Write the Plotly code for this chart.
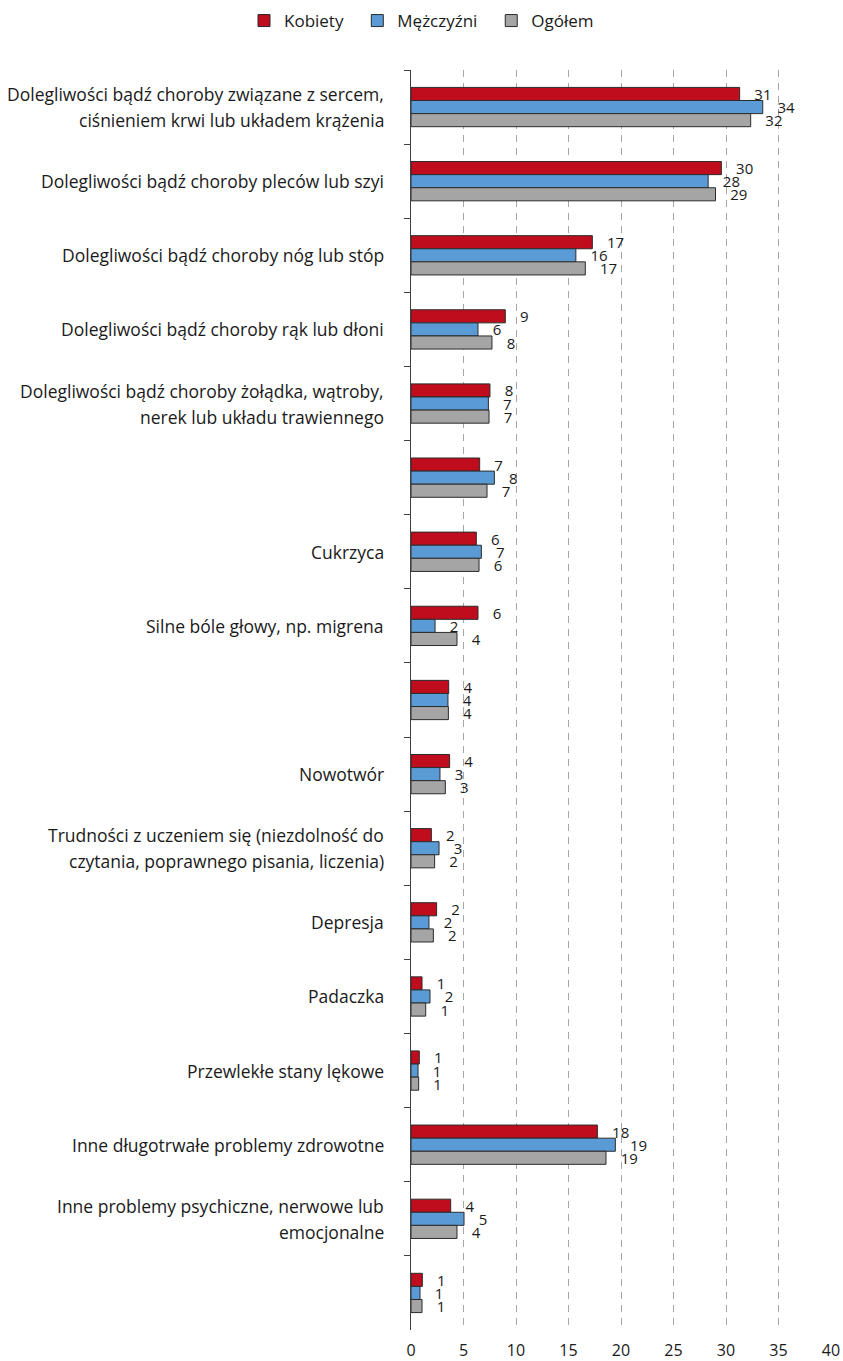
import plotly.graph_objects as go

# Category labels (top to bottom); "\n" marks a manual line break, "" = unlabeled row
categories = [
    "Dolegliwości bądź choroby związane z sercem,\nciśnieniem krwi lub układem krążenia",
    "Dolegliwości bądź choroby pleców lub szyi",
    "Dolegliwości bądź choroby nóg lub stóp",
    "Dolegliwości bądź choroby rąk lub dłoni",
    "Dolegliwości bądź choroby żołądka, wątroby,\nnerek lub układu trawiennego",
    "",
    "Cukrzyca",
    "Silne bóle głowy, np. migrena",
    "",
    "Nowotwór",
    "Trudności z uczeniem się (niezdolność do\nczytania, poprawnego pisania, liczenia)",
    "Depresja",
    "Padaczka",
    "Przewlekłe stany lękowe",
    "Inne długotrwałe problemy zdrowotne",
    "Inne problemy psychiczne, nerwowe lub\nemocjonalne",
    "",
]

kobiety = [31.3, 29.56, 17.27, 8.98, 7.52, 6.54, 6.22, 6.38, 3.59, 3.68, 1.94, 2.44, 1.05, 0.79, 17.75, 3.78, 1.08]
mezczyzni = [33.5, 28.3, 15.7, 6.38, 7.37, 7.94, 6.70, 2.29, 3.52, 2.76, 2.67, 1.71, 1.81, 0.67, 19.46, 5.05, 0.86]
ogolem = [32.35, 29.0, 16.6, 7.71, 7.43, 7.24, 6.48, 4.38, 3.56, 3.27, 2.25, 2.13, 1.40, 0.73, 18.57, 4.38, 1.05]

series_names = ["Kobiety", "Mężczyźni", "Ogółem"]
series_values = [kobiety, mezczyzni, ogolem]
series_colors = ["#C00D1E", "#5B9BD5", "#A5A5A5"]

x_ticks = [0, 5, 10, 15, 20, 25, 30, 35, 40]

FONT = "Open Sans"
TEXT_COLOR = "#1a1a1a"
NBSP = "\u00a0"

# unique keys for the categorical axis (several rows have no label)
keys = [f"r{i:02d}" for i in range(len(categories))]

fig = go.Figure()
for i, (name, vals, col) in enumerate(zip(series_names, series_values, series_colors)):
    # pad legend entries (except the last) to widen the gap between items
    legend_name = name + (NBSP * 2 if i < len(series_names) - 1 else "")
    fig.add_trace(go.Bar(
        name=legend_name,
        y=keys,
        x=vals,
        orientation="h",
        marker=dict(color=col, line=dict(color="#2b2b2b", width=1)),
        texttemplate=NBSP * 3 + "%{x:.0f}",
        textposition="outside",
        textfont=dict(family=FONT, size=15, color=TEXT_COLOR),
        constraintext="none",
        cliponaxis=False,
        hoverinfo="skip",
    ))

# category labels drawn as annotations so that wrapped lines get wider spacing
line_gap = 26
for key, label in zip(keys, categories):
    if not label:
        continue
    lines = label.split("\n")
    n = len(lines)
    for j, line in enumerate(lines):
        shift = ((n - 1) / 2 - j) * line_gap
        fig.add_annotation(
            x=0, xref="paper", xanchor="right", xshift=-25,
            y=key, yref="y", yanchor="middle", yshift=shift,
            text=line, showarrow=False,
            font=dict(family=FONT, size=17.5, color=TEXT_COLOR),
        )

fig.update_layout(
    width=843,
    height=1361,
    margin=dict(l=411, r=12, t=70, b=31, autoexpand=False),
    paper_bgcolor="white",
    plot_bgcolor="white",
    barmode="group",
    bargap=0.47,
    bargroupgap=0,
    font=dict(family=FONT, color=TEXT_COLOR),
    showlegend=True,
    legend=dict(
        orientation="h",
        xref="container", yref="container",
        x=0.5, xanchor="center",
        y=1 - 21 / 1361, yanchor="middle",
        traceorder="normal",
        font=dict(family=FONT, size=17, color=TEXT_COLOR),
        itemwidth=30,
    ),
    xaxis=dict(
        range=[0, 40],
        tickmode="array",
        tickvals=x_ticks,
        ticktext=[str(t) for t in x_ticks],
        showgrid=True,
        gridcolor="#a6a6a6",
        gridwidth=1,
        griddash="7px,6px",
        zeroline=False,
        showline=False,
        ticks="",
        ticklabelstandoff=9,
        tickfont=dict(family=FONT, size=16, color=TEXT_COLOR),
        automargin=False,
    ),
    yaxis=dict(
        type="category",
        categoryorder="array",
        categoryarray=keys,
        autorange="reversed",
        showticklabels=False,
        showgrid=False,
        zeroline=False,
        showline=True,
        linecolor="#404040",
        linewidth=1,
        ticks="outside",
        tickson="boundaries",
        ticklen=6,
        tickcolor="#404040",
        tickwidth=1,
        automargin=False,
    ),
)

fig.write_html("out.html")
